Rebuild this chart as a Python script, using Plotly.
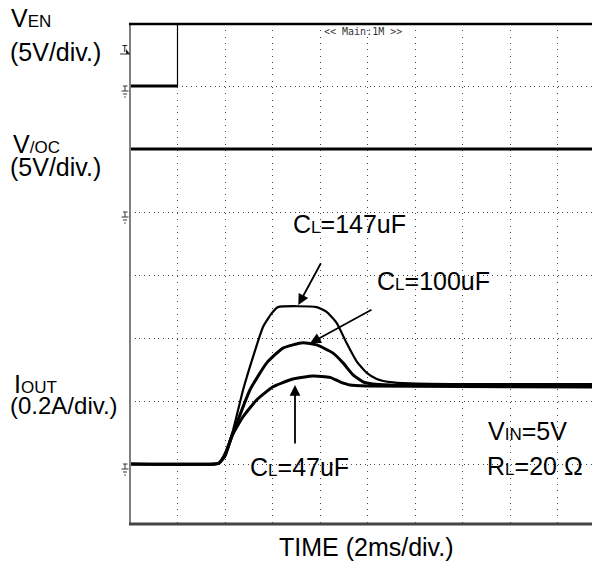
import plotly.graph_objects as go

# ---------------- data (time in ms, 2 ms/div) ----------------
t_ven = [0.0, 2.0, 2.0, 20.0]
v_ven = [0.0, 0.0, 5.0, 5.0]          # V  (5 V/div)
t_voc = [0.0, 20.0]
v_voc = [5.0, 5.0]                    # V  (5 V/div)

t_147 = [0.0, 3.58, 3.75, 4.00, 4.34, 4.76, 5.18, 5.60, 5.97, 6.23, 7.86, 8.28, 8.70,
         9.12, 9.55, 9.97, 10.39, 10.95, 11.79, 13.47, 20.0]
i_147 = [0.0, 0.0, 0.003, 0.035, 0.108, 0.235, 0.340, 0.435, 0.479, 0.498, 0.498, 0.483, 0.448,
         0.384, 0.325, 0.289, 0.270, 0.260, 0.256, 0.254, 0.254]

t_100 = [0.0, 3.58, 3.75, 4.00, 4.34, 5.05, 5.76, 6.44, 7.28, 7.86, 8.55, 8.97, 9.39,
         9.81, 10.23, 10.95, 20.0]
i_100 = [0.0, 0.0, 0.003, 0.029, 0.098, 0.235, 0.321, 0.368, 0.385, 0.378, 0.352, 0.321, 0.283,
         0.261, 0.254, 0.251, 0.249]

t_47 = [0.0, 3.58, 3.75, 4.00, 4.28, 4.76, 5.33, 6.02, 6.86, 7.71, 8.42, 8.84, 9.26,
        9.97, 20.0]
i_47 = [0.0, 0.0, 0.003, 0.025, 0.087, 0.150, 0.203, 0.245, 0.270, 0.279, 0.275, 0.261, 0.251,
        0.248, 0.244]

# channel settings: ground level (div) and units per division
VEN_GND, VEN_DIV = 7.0, 5.0
VOC_GND, VOC_DIV = 5.0, 5.0
IOUT_GND, IOUT_DIV = 1.0, 0.2

def to_div(vals, gnd, per_div):
    return [gnd + v / per_div for v in vals]

# ---------------- geometry (page pixels; page has an 8px body margin) ----------------
W, H = 600, 564
OFF = 8
X0, X1, Y0, Y1 = 130, 605, 24, 524      # plot frame in page pixels
L, T = X0 - OFF, Y0 - OFF
R = W - (X1 - OFF)
B = H - (Y1 - OFF)
PW, PH = X1 - X0, Y1 - Y0

def px(x):
    return (x - X0) / PW

def py(y):
    return (Y1 - y) / PH

FONT = "Liberation Sans, Arial, sans-serif"
BIG, SMALL = 25, 17

def sc(big, small):
    return f'{big}<span style="font-size:{SMALL}px">{small}</span>'

fig = go.Figure()

# VEN
fig.add_trace(go.Scatter(x=t_ven, y=to_div(v_ven, VEN_GND, VEN_DIV), mode="lines",
                         line=dict(color="black", width=1.2), hoverinfo="skip"))
fig.add_trace(go.Scatter(x=t_ven[:2], y=to_div(v_ven[:2], VEN_GND, VEN_DIV), mode="lines",
                         line=dict(color="black", width=3), hoverinfo="skip"))
# V/OC
fig.add_trace(go.Scatter(x=t_voc, y=to_div(v_voc, VOC_GND, VOC_DIV), mode="lines",
                         line=dict(color="black", width=3), hoverinfo="skip"))
# IOUT
for tt, ii, w in [(t_47, i_47, 3), (t_100, i_100, 3), (t_147, i_147, 2.2)]:
    fig.add_trace(go.Scatter(x=tt, y=to_div(ii, IOUT_GND, IOUT_DIV), mode="lines",
                             line=dict(color="black", width=w, shape="spline", smoothing=0.5),
                             hoverinfo="skip"))

# ---------------- shapes: frame, ground symbols, trigger ----------------
shapes = []
def seg(x0, y0, x1, y1, color="#333", width=1):
    shapes.append(dict(type="line", xref="paper", yref="paper",
                       x0=px(x0), y0=py(y0), x1=px(x1), y1=py(y1),
                       line=dict(color=color, width=width)))

seg(130, 24, 130, 524, "#7f7f7f", 2)      # left
seg(129, 24, 605, 24, "black", 2.5)       # top
seg(129, 524, 605, 524, "#444", 3)        # bottom

for g in (86, 212, 464):
    seg(123, g, 127.5, g)
    seg(125, g, 125, g + 5)
    seg(121.5, g + 5, 128.5, g + 5)
    seg(123, g + 8, 127, g + 8)
    seg(124.2, g + 11, 125.8, g + 11)

# trigger marker
seg(120, 54, 130, 54)
shapes.append(dict(type="path", xref="paper", yref="paper",
                   path=f"M {px(126)} {py(54)} L {px(130)} {py(54)} L {px(126)} {py(49)} Z",
                   fillcolor="#222", line=dict(width=0)))

# ---------------- annotations ----------------
ann = []
def text(x, y, s, size=BIG, anchor="left", font=FONT, color="black"):
    ann.append(dict(xref="paper", yref="paper", x=px(x), y=py(y), text=s,
                    showarrow=False, xanchor=anchor, yanchor="middle",
                    font=dict(family=font, size=size, color=color)))

text(9, 18, sc("V", "EN"))
text(8, 52, "(5V/div.)")
text(11, 144, sc("V", "/OC"))
text(8, 167, "(5V/div.)")
text(12, 384, sc("I", "OUT"))
text(8, 405, "(0.2A/div.)", size=24)
text(366, 547, "TIME (2ms/div.)", anchor="center")

text(291, 224, sc("C", "L") + "=147uF")
text(375, 281, sc("C", "L") + "=100uF")
text(248, 467, sc("C", "L") + "=47uF")
text(486, 431, sc("V", "IN") + "=5V")
text(485, 466, sc("R", "L") + "=20 Ω")

text(120, 49, "T", size=9, font="DejaVu Sans Mono")
text(363, 31, "&lt;&lt; Main:1M &gt;&gt;", size=10, anchor="center",
     font="DejaVu Sans Mono", color="#333")

def arrow(tail, tip):
    ann.append(dict(xref="paper", yref="paper", x=px(tip[0]), y=py(tip[1]),
                    ax=tail[0] - tip[0], ay=tail[1] - tip[1], text="",
                    showarrow=True, arrowhead=2, arrowsize=1.2, arrowwidth=1.8,
                    arrowcolor="black", standoff=0))

arrow((321.7, 261.7), (298.3, 305))
arrow((373, 309), (310, 343.3))
arrow((295, 445), (295, 385))

y_lo, y_hi = 1 - 60 / 63, 7 + 62 / 63

fig.update_layout(
    width=W, height=H,
    margin=dict(l=L, r=R, t=T, b=B, pad=0),
    paper_bgcolor="white", plot_bgcolor="white",
    showlegend=False,
    shapes=shapes, annotations=ann,
    xaxis=dict(range=[0, 20], tick0=0, dtick=2, showgrid=True,
               gridcolor="#444", gridwidth=1, griddash="1px,5.3px",
               showticklabels=False, ticks="", zeroline=False, showline=False,
               fixedrange=True),
    yaxis=dict(range=[y_lo, y_hi], tick0=0, dtick=1, showgrid=True,
               gridcolor="#444", gridwidth=1, griddash="1px,3.7px",
               showticklabels=False, ticks="", zeroline=False, showline=False,
               fixedrange=True),
)

fig.write_html("out.html")
